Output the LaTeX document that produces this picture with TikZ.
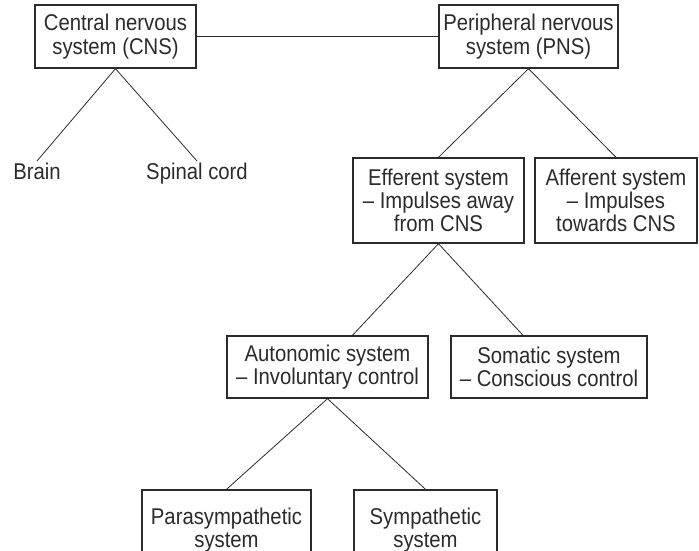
\documentclass[tikz,border=0pt]{standalone}
\usepackage{fontspec}
\setmainfont{Liberation Sans}[FakeStretch=0.89]
\usetikzlibrary{positioning}
\definecolor{ink}{rgb}{0.17,0.17,0.17}

\begin{document}
\begin{tikzpicture}[x=1pt, y=-1pt, font=\fontsize{22.8}{23.3}\selectfont, text=ink,
box/.style={draw=ink, line width=1.4pt, align=center, inner sep=0pt},
leaf/.style={align=center, inner sep=2pt, anchor=north},
link/.style={draw=ink, line width=0.8pt}]
\useasboundingbox (0,0) rectangle (699,551);
\clip (0,0) rectangle (699,551);
% top level
\node[box, minimum width=161, minimum height=63] (cns) at (115.5,36.5) {Central nervous\\system (CNS)};
\node[box, minimum width=179, minimum height=63] (pns) at (528.5,36.5) {Peripheral nervous\\system (PNS)};
\node[leaf] (brain) at (37,161) {Brain};
\node[leaf] (spinal) at (197,161) {Spinal cord};
% second level
\node[box, minimum width=171, minimum height=85] (eff) at (438.5,200.5) {Efferent system\\-- Impulses away\\from CNS};
\node[box, minimum width=162, minimum height=85] (aff) at (616,200.5) {Afferent system\\-- Impulses\\towards CNS};
\node[box, minimum width=201, minimum height=62] (auto) at (327.5,367) {Autonomic system\\-- Involuntary control};
\node[box, minimum width=196, minimum height=62] (soma) at (549,367) {Somatic system\\-- Conscious control};
% bottom level, cut off by the page edge
\node[box, minimum width=169, minimum height=80] (para) at (226.5,530) {Parasympathetic\\system};
\node[box, minimum width=143, minimum height=80] (symp) at (425.5,530) {Sympathetic\\system};

\draw[link] (cns) -- (pns);
\draw[link] (cns.south) -- (brain.north);
\draw[link] (cns.south) -- (spinal.north);
\draw[link] (pns.south) -- (eff.north);
\draw[link] (pns.south) -- (aff.north);
\draw[link] (eff.south) -- ([xshift=25pt]auto.north);
\draw[link] (eff.south) -- ([xshift=-26pt]soma.north);
\draw[link] (auto.south) -- (para.north);
\draw[link] (auto.south) -- (symp.north);
\end{tikzpicture}
\end{document}
